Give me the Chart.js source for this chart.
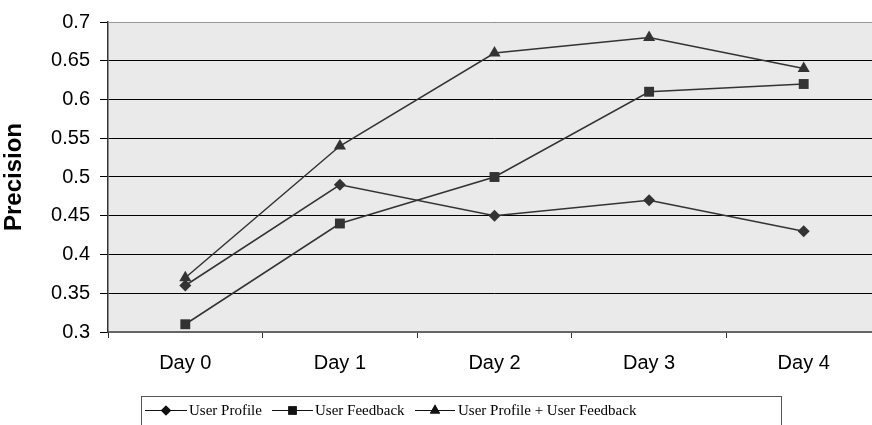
<!DOCTYPE html>
<html>
<head>
<meta charset="utf-8">
<script src="https://cdn.jsdelivr.net/npm/chart.js@4/dist/chart.umd.min.js"></script>
<style>
  html, body { margin: 0; padding: 0; background: #fff; overflow: hidden; }
  #wrap { width: 872px; height: 425px; overflow: hidden; }
  #chart { display: block; }
</style>
</head>
<body>
<!-- the original plot runs past the right edge of the picture, so the canvas is a bit wider and clipped -->
<div id="wrap"><canvas id="chart" width="888" height="425"></canvas></div>
<script>
// chart values
const days = ['Day 0', 'Day 1', 'Day 2', 'Day 3', 'Day 4'];
const userProfile  = [0.36, 0.49, 0.45, 0.47, 0.43];
const userFeedback = [0.31, 0.44, 0.50, 0.61, 0.62];
const combined     = [0.37, 0.54, 0.66, 0.68, 0.64];
const seriesNames  = ['User Profile', 'User Feedback', 'User Profile + User Feedback'];

const INK = '#333333';

// grey plot background + light frame on top
const plotBg = {
  id: 'plotBg',
  beforeDraw(chart) {
    const { ctx, chartArea: a } = chart;
    ctx.save();
    ctx.fillStyle = '#eaeaea';
    ctx.fillRect(a.left, a.top, a.right - a.left, a.bottom - a.top);
    ctx.restore();
  },
  afterDatasetsDraw(chart) {
    const { ctx, chartArea: a } = chart;
    ctx.save();
    ctx.strokeStyle = '#999';
    ctx.lineWidth = 1;
    ctx.beginPath();
    ctx.moveTo(a.left, a.top + 0.5);
    ctx.lineTo(a.right, a.top + 0.5);
    ctx.stroke();
    ctx.restore();
  }
};

// boxed legend with line + marker samples, like the original
const boxLegend = {
  id: 'boxLegend',
  afterDraw(chart) {
    const { ctx } = chart;
    const items = [
      { lineX: 145, lineEnd: 187, text: 189 },
      { lineX: 272, lineEnd: 313, text: 315 },
      { lineX: 415, lineEnd: 455, text: 458 }
    ];
    const y = 410;
    ctx.save();
    ctx.strokeStyle = '#555';
    ctx.lineWidth = 1;
    ctx.strokeRect(141.5, 396.5, 640, 40);
    ctx.font = '15px "Liberation Serif", "Times New Roman", serif';
    ctx.textBaseline = 'middle';
    items.forEach((it, i) => {
      const ds = chart.data.datasets[i];
      ctx.strokeStyle = '#111';
      ctx.lineWidth = 1;
      ctx.beginPath();
      ctx.moveTo(it.lineX, y + 0.5);
      ctx.lineTo(it.lineEnd, y + 0.5);
      ctx.stroke();
      ctx.fillStyle = '#111';
      Chart.helpers.drawPoint(ctx, { pointStyle: ds.pointStyle, radius: ds.pointRadius * 0.85, borderWidth: 0 },
        (it.lineX + it.lineEnd) / 2, y + 0.5);
      ctx.fill();
      ctx.fillStyle = '#000';
      ctx.fillText(seriesNames[i], it.text, y + 1);
    });
    ctx.restore();
  }
};

function series(label, data, style, radius) {
  return {
    label, data,
    borderColor: INK, backgroundColor: INK,
    borderWidth: 1.5,
    pointStyle: style, pointRadius: radius, pointHoverRadius: radius,
    pointBorderWidth: 0,
    tension: 0
  };
}

new Chart(document.getElementById('chart'), {
  type: 'line',
  data: {
    labels: days,
    datasets: [
      series(seriesNames[0], userProfile, 'rectRot', 6),
      series(seriesNames[1], userFeedback, 'rect', 7),
      series(seriesNames[2], combined, 'triangle', 7)
    ]
  },
  plugins: [plotBg, boxLegend],
  options: {
    responsive: false,
    animation: false,
    layout: { padding: { top: 15, right: 0, left: 0, bottom: 0 } },
    plugins: { legend: { display: false }, tooltip: { enabled: false } },
    scales: {
      x: {
        offset: true,
        grid: { offset: true, drawOnChartArea: false, drawTicks: true, tickLength: 6, color: INK },
        border: { color: '#666', width: 2 },
        ticks: { color: '#000', padding: 13, font: { family: '"Liberation Sans", Arial, sans-serif', size: 20 } },
        afterFit(scale) { scale.height = 93; }
      },
      y: {
        min: 0.3, max: 0.7,
        ticks: {
          stepSize: 0.05, color: '#000', padding: 10,
          font: { family: '"Liberation Sans", Arial, sans-serif', size: 20 },
          callback: v => String(+v.toFixed(2))
        },
        grid: { color: '#000', lineWidth: 1, tickLength: 8 },
        border: { color: INK, width: 1.5 },
        title: {
          display: true, text: 'Precision', color: '#000', padding: { top: 0, bottom: 2 },
          font: { family: '"Liberation Sans", Arial, sans-serif', size: 24, weight: 'bold' }
        },
        afterFit(scale) { scale.width = 108; }
      }
    }
  }
});
</script>
</body>
</html>
